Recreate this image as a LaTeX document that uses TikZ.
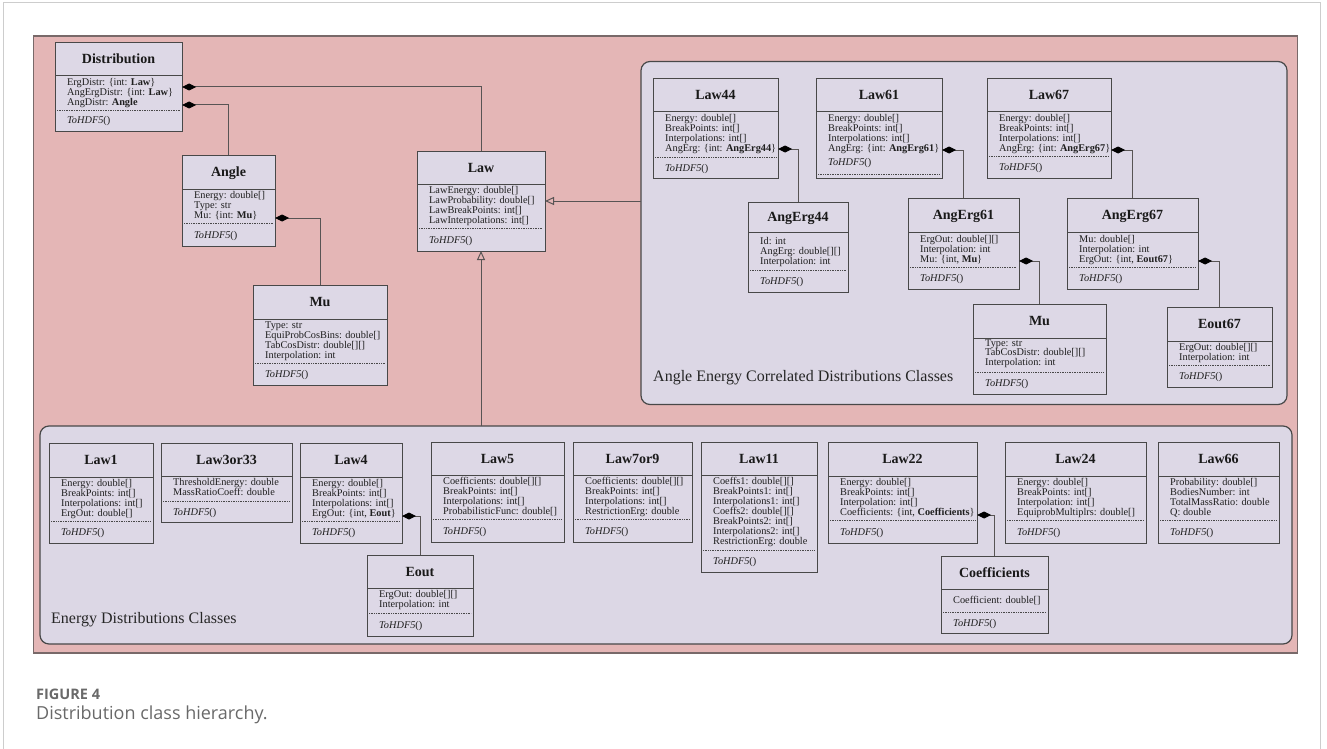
\documentclass[tikz,border=0pt]{standalone}
\usepackage{fontspec}
\setmainfont{Liberation Serif}
\newfontfamily\capfont{Open Sans}
\usetikzlibrary{arrows.meta,calc}

\definecolor{panelpink}{RGB}{228,182,182}
\definecolor{panellav}{RGB}{220,215,229}
\definecolor{boxfill}{RGB}{221,216,230}
\definecolor{edge}{RGB}{72,72,72}
\definecolor{linkcol}{RGB}{88,84,84}
\definecolor{pinkedge}{RGB}{120,105,105}
\definecolor{capgray}{RGB}{105,105,105}
\definecolor{framegray}{RGB}{205,205,205}

\tikzset{
  classbox/.style={draw=edge, fill=boxfill, line width=0.9pt, inner sep=0pt, outer sep=0pt},
  sepline/.style={draw=edge, line width=1pt},
  dotsep/.style={draw=edge, line width=0.7pt, dash pattern=on 0.8pt off 0.9pt},
  ctitle/.style={font=\fontsize{14}{16}\selectfont\bfseries, anchor=base, inner sep=0pt, text=black!90},
  cattr/.style={font=\fontsize{10.3}{10}\selectfont, anchor=base west, inner sep=0pt, text=black!88},
  comp/.style={draw=linkcol, line width=1pt, {Diamond[length=14pt,width=7pt,color=black]}-},
  gen/.style={draw=linkcol, line width=1pt, -{Triangle[open,length=9pt,width=8pt]}},
  grouppanel/.style={draw=edge, fill=panellav, line width=1.2pt, rounded corners=9pt, inner sep=0pt, outer sep=0pt},
  grouplabel/.style={font=\fontsize{16}{18}\selectfont, anchor=base west, inner sep=0pt, text=black!85},
}

% gap from the title rule to the first attribute baseline, and shift of the method line
\newcommand\attrgap{9.6}
\newcommand\mshift{0}

% #1 name, #2 left, #3 top, #4 right, #5 bottom, #6 title rule, #7 dotted rule, #8 title, #9 attributes
\newcommand\classbox[9]{%
  \node[classbox, minimum width={(#4-#2)*1pt}, minimum height={(#5-#3)*1pt}] (#1) at ({(#2+#4)/2},{(#3+#5)/2}) {};
  \draw[sepline] ({#2},{#6}) -- ({#4},{#6});
  \draw[dotsep] ({#2+2},{#7}) -- ({#4-2},{#7});
  \node[ctitle] (#1-title) at ({(#2+#4)/2},{(#3+#6)/2+4.7}) {#8};
  \foreach \a [count=\i] in {#9}
    \node[cattr] (#1-a\i) at ({#2+12},{#6+\attrgap+(\i-1)*9.95}) {\a};
  \node[cattr] (#1-m) at ({#2+12},{(#7+#5)/2+3.5+\mshift}) {\textit{ToHDF5}()};
}

\begin{document}
\begin{tikzpicture}[x=1pt,y=-1pt]
\useasboundingbox (0,0) rectangle (1327,749);

% page frame
\draw[framegray, line width=1pt] (3.3,749) -- (3.3,2.7) -- (1320,2.7) -- (1320,749);

% background panels
\node[draw=pinkedge, fill=panelpink, line width=1.2pt, inner sep=0pt, outer sep=0pt,
      minimum width=1264pt, minimum height=617pt] (DistPanel) at (665.3,344.5) {};
\node[grouppanel, minimum width=646pt, minimum height=343pt] (AngErgGroup) at (964,233) {};
\node[grouppanel, minimum width=1252pt, minimum height=218pt] (EnergyGroup) at (666,535) {};

\node[grouplabel] (AngErgLabel) at (653,381.5) {Angle Energy Correlated Distributions Classes};
\node[grouplabel] (EnergyLabel) at (51,623.5) {Energy Distributions Classes};

% top-level classes
\classbox{Distribution}{55}{42}{182}{131}{76}{110}{Distribution}
  {{ErgDistr: \{int: \textbf{Law}\}},{AngErgDistr: \{int: \textbf{Law}\}},{AngDistr: \textbf{Angle}}}
\classbox{Angle}{182}{155}{275}{246}{189}{223}{Angle}
  {{Energy: double[]},{Type: str},{Mu: \{int: \textbf{Mu}\}}}
\classbox{Mu}{253}{285}{387}{385}{319}{363}{Mu}
  {{Type: str},{EquiProbCosBins: double[]},{TabCosDistr: double[][]},{Interpolation: int}}
\classbox{Law}{417}{151}{545}{251}{184}{228}{Law}
  {{LawEnergy: double[]},{LawProbability: double[]},{LawBreakPoints: int[]},{LawInterpolations: int[]}}

% angle-energy correlated laws
\classbox{Law44}{653}{78}{778}{178}{112}{157}{Law44}
  {{Energy: double[]},{BreakPoints: int[]},{Interpolations: int[]},{AngErg: \{int: \textbf{AngErg44}\}}}
{\renewcommand\mshift{-14.3}%
\classbox{Law61}{816}{78}{942}{178}{112}{174}{Law61}
  {{Energy: double[]},{BreakPoints: int[]},{Interpolations: int[]},{AngErg: \{int: \textbf{AngErg61}\}}}}
\classbox{Law67}{987}{78}{1111}{178}{112}{156}{Law67}
  {{Energy: double[]},{BreakPoints: int[]},{Interpolations: int[]},{AngErg: \{int: \textbf{AngErg67}\}}}
{\renewcommand\attrgap{12.3}%
\classbox{AngErg44}{748}{202}{848}{292}{232}{270}{AngErg44}
  {{Id: int},{AngErg: double[][]},{Interpolation: int}}}
{\renewcommand\attrgap{10.3}%
\classbox{AngErg61}{908}{198}{1019}{289}{232}{267}{AngErg61}
  {{ErgOut: double[][]},{Interpolation: int},{Mu: \{int, \textbf{Mu}\}}}
\classbox{AngErg67}{1067}{198}{1198}{289}{232}{267}{AngErg67}
  {{Mu: double[]},{Interpolation: int},{ErgOut: \{int, \textbf{Eout67}\}}}}
{\renewcommand\attrgap{8}%
\classbox{MuAE}{973}{304}{1106}{394}{338}{372}{Mu}
  {{Type: str},{TabCosDistr: double[][]},{Interpolation: int}}}
\classbox{Eout67}{1167}{307}{1272}{387}{341}{365}{Eout67}
  {{ErgOut: double[][]},{Interpolation: int}}

% energy distribution laws
\classbox{Law1}{49}{443}{153}{543}{477}{521}{Law1}
  {{Energy: double[]},{BreakPoints: int[]},{Interpolations: int[]},{ErgOut: double[]}}
\classbox{Law3or33}{161}{443}{292}{522}{476}{501}{Law3or33}
  {{ThresholdEnergy: double},{MassRatioCoeff: double}}
\classbox{Law4}{300}{443}{402}{543}{477}{521}{Law4}
  {{Energy: double[]},{BreakPoints: int[]},{Interpolations: int[]},{ErgOut: \{int, \textbf{Eout}\}}}
\classbox{Eout}{367}{555}{473}{636}{588}{613}{Eout}
  {{ErgOut: double[][]},{Interpolation: int}}
\classbox{Law5}{431}{442}{564}{542}{475}{519}{Law5}
  {{Coefficients: double[][]},{BreakPoints: int[]},{Interpolations: int[]},{ProbabilisticFunc: double[]}}
\classbox{Law7or9}{573}{442}{692}{542}{475}{519}{Law7or9}
  {{Coefficients: double[][]},{BreakPoints: int[]},{Interpolations: int[]},{RestrictionErg: double}}
\classbox{Law11}{701}{442}{817}{572}{475}{550}{Law11}
  {{Coeffs1: double[][]},{BreakPoints1: int[]},{Interpolations1: int[]},{Coeffs2: double[][]},{BreakPoints2: int[]},{Interpolations2: int[]},{RestrictionErg: double}}
\classbox{Law22}{828}{442}{977}{543}{476}{520}{Law22}
  {{Energy: double[]},{BreakPoints: int[]},{Interpolation: int[]},{Coefficients: \{int, \textbf{Coefficients}\}}}
{\renewcommand\attrgap{14}%
\classbox{Coefficients}{941}{556}{1048}{633}{589}{612}{Coefficients}
  {{Coefficient: double[]}}}
\classbox{Law24}{1005}{442}{1146}{543}{476}{520}{Law24}
  {{Energy: double[]},{BreakPoints: int[]},{Interpolation: int[]},{EquiprobMultiplrs: double[]}}
\classbox{Law66}{1158}{442}{1279}{543}{476}{520}{Law66}
  {{Probability: double[]},{BodiesNumber: int},{TotalMassRatio: double},{Q: double}}

% compositions
\draw[comp] (Distribution.east |- 0,87) -| (Law.north);
\draw[comp] (Distribution.east |- 0,105) -| (Angle.north);
\draw[comp] (Angle.east |- 0,218) -| (Mu.north);
\draw[comp] (Law44.east |- 0,149) -| (AngErg44.north);
\draw[comp] (Law61.east |- 0,150) -| (AngErg61.north);
\draw[comp] (Law67.east |- 0,150) -| (AngErg67.north);
\draw[comp] (AngErg61.east |- 0,261) -| (MuAE.north);
\draw[comp] (AngErg67.east |- 0,261) -| (Eout67.north);
\draw[comp] (Law4.east |- 0,516) -| (Eout.north);
\draw[comp] (Law22.east |- 0,515) -| (Coefficients.north);

% generalizations
\draw[gen] (AngErgGroup.west |- 0,201) -- (Law.east |- 0,201);
\draw[gen] (EnergyGroup.north -| Law.south) -- (Law.south);

% caption
\node[anchor=base west, inner sep=0pt, text=capgray, font=\capfont\bfseries\fontsize{14.5}{16}\selectfont] (FigNo) at (36,699) {FIGURE 4};
\node[anchor=base west, inner sep=0pt, text=capgray, font=\capfont\fontsize{18}{20}\selectfont] (FigCaption) at (36,719.3) {Distribution class hierarchy.};
\end{tikzpicture}
\end{document}
